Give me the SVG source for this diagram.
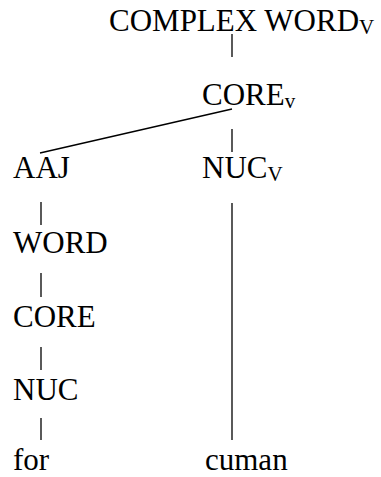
<svg xmlns="http://www.w3.org/2000/svg" width="381" height="477" viewBox="0 0 381 477">
  <style>
    .lbl { font-size: 31px; fill: #000; }
    .sub { font-size: 21px; }
    .edge { stroke: #000; stroke-width: 1.3; fill: none; }
  </style>
  <rect width="381" height="477" fill="#fff"/>
  <g id="connectors">
    <line class="edge" x1="232" y1="34" x2="232" y2="57"/>
    <line class="edge" x1="232" y1="109" x2="40" y2="153"/>
    <line class="edge" x1="232" y1="129" x2="232" y2="152"/>
    <line class="edge" x1="41" y1="202" x2="41" y2="225"/>
    <line class="edge" x1="41" y1="273" x2="41" y2="297"/>
    <line class="edge" x1="41" y1="347" x2="41" y2="370"/>
    <line class="edge" x1="41" y1="418" x2="41" y2="440"/>
    <line class="edge" x1="232" y1="203" x2="232" y2="440"/>
  </g>
  <g font-family="Liberation Serif, Tinos, DejaVu Serif, serif">
    <g id="complex-word"><text class="lbl" x="109" y="31">COMPLEX WORD<tspan class="sub" dy="3">V</tspan></text></g>
    <g id="core-v"><text class="lbl" x="202" y="105">CORE<tspan class="sub" dy="3">v</tspan></text></g>
    <g id="aaj"><text class="lbl" x="13" y="178">AAJ</text></g>
    <g id="nuc-v"><text class="lbl" x="202" y="178">NUC<tspan class="sub" dy="3">V</tspan></text></g>
    <g id="word"><text class="lbl" x="13" y="253">WORD</text></g>
    <g id="core"><text class="lbl" x="13" y="327">CORE</text></g>
    <g id="nuc"><text class="lbl" x="13" y="400">NUC</text></g>
    <g id="for"><text class="lbl" x="13" y="470">for</text></g>
    <g id="cuman"><text class="lbl" x="205" y="470">cuman</text></g>
  </g>
</svg>
